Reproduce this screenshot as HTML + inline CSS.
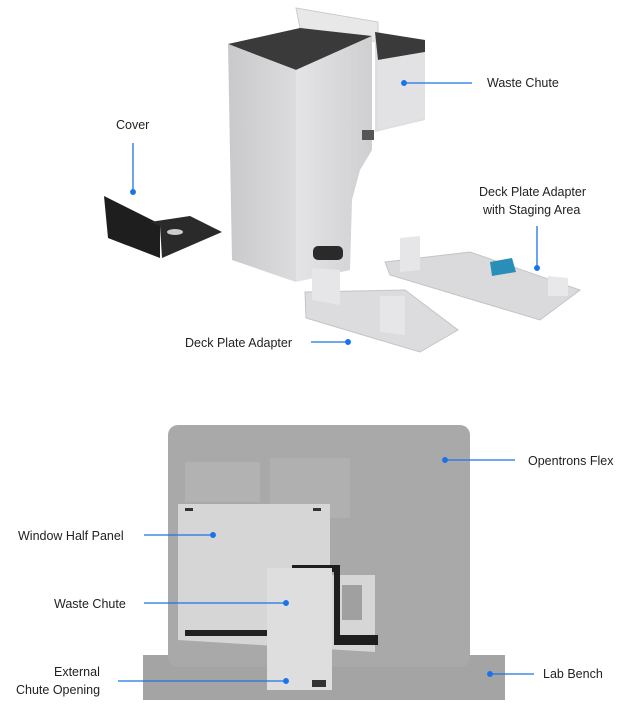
<!DOCTYPE html>
<html><head><style>
body{margin:0;background:#fff;}
svg{display:block;font-family:"Liberation Sans",sans-serif;}
text{font-size:12.5px;fill:#222;}
</style></head><body>
<svg width="625" height="719" viewBox="0 0 625 719">
<defs>
<linearGradient id="lf" x1="0" x2="1"><stop offset="0" stop-color="#c9c9cb"/><stop offset="1" stop-color="#dcdcde"/></linearGradient>
<linearGradient id="rf" x1="0" x2="1"><stop offset="0" stop-color="#e4e4e6"/><stop offset="1" stop-color="#cfcfd1"/></linearGradient>
</defs>
<polygon points="296,8 378,22 378,42 300,28" fill="#e8e8e8" stroke="#ccc"/>
<polygon points="375,32 425,40 425,120 375,132" fill="#dedee0"/>
<polygon points="375,32 425,40 425,52 378,60" fill="#3a3a3a"/>
<polygon points="378,60 425,52 425,118 378,130" fill="#e2e2e4"/>
<polygon points="228,44 300,28 372,36 296,70" fill="#3a3a3a"/>
<polygon points="228,44 296,70 296,282 232,260" fill="url(#lf)"/>
<polygon points="296,70 372,36 372,150 360,170 352,200 350,270 296,282" fill="url(#rf)"/>
<rect x="362" y="130" width="12" height="10" fill="#555"/>
<rect x="313" y="246" width="30" height="14" rx="5" fill="#2a2a2a"/>
<polygon points="104,196 160,224 160,258 108,238" fill="#1e1e1e"/>
<polygon points="150,222 190,216 222,232 162,258 160,226" fill="#2a2a2a"/>
<ellipse cx="175" cy="232" rx="8" ry="3" fill="#ccc"/>
<polygon points="305,292 405,290 458,330 420,352 306,318" fill="#dcdcde" stroke="#c4c4c6"/>
<polygon points="312,268 340,270 340,305 312,300" fill="#e6e6e8"/>
<polygon points="380,296 405,296 405,335 380,332" fill="#e6e6e8"/>
<polygon points="385,262 470,252 580,290 540,320 390,275" fill="#dadadc" stroke="#c4c4c6"/>
<polygon points="400,238 420,236 420,270 400,272" fill="#e6e6e8"/>
<polygon points="490,262 512,258 516,272 492,276" fill="#2a8fb8"/>
<polygon points="548,276 568,278 568,296 548,296" fill="#e8e8ea"/>
<rect x="143" y="655" width="362" height="45" fill="#a4a4a4"/>
<rect x="168" y="425" width="302" height="242" rx="10" fill="#a9a9a9"/>
<rect x="185" y="462" width="75" height="40" fill="#b2b2b2"/>
<rect x="270" y="458" width="80" height="60" fill="#b0b0b0"/>
<polygon points="178,504 330,504 330,575 375,575 375,652 178,640" fill="#d6d6d6"/>
<rect x="185" y="630" width="85" height="6" fill="#222"/>
<rect x="185" y="508" width="8" height="3" fill="#333"/>
<rect x="313" y="508" width="8" height="3" fill="#333"/>
<polygon points="292,565 340,565 340,635 378,635 378,645 334,645 334,572 292,572" fill="#1e1e1e"/>
<rect x="342" y="585" width="20" height="35" fill="#a0a0a0"/>
<rect x="267" y="568" width="65" height="122" fill="#dedede"/>
<rect x="312" y="680" width="14" height="7" fill="#333"/>
<g stroke="#1a73e8" stroke-width="1.3" fill="#1a73e8">
<line x1="404" y1="83" x2="472" y2="83"/><circle cx="404" cy="83" r="2.3"/>
<line x1="133" y1="143" x2="133" y2="192"/><circle cx="133" cy="192" r="2.3"/>
<line x1="537" y1="226" x2="537" y2="268"/><circle cx="537" cy="268" r="2.3"/>
<line x1="311" y1="342" x2="348" y2="342"/><circle cx="348" cy="342" r="2.3"/>
<line x1="445" y1="460" x2="515" y2="460"/><circle cx="445" cy="460" r="2.3"/>
<line x1="144" y1="535" x2="213" y2="535"/><circle cx="213" cy="535" r="2.3"/>
<line x1="144" y1="603" x2="286" y2="603"/><circle cx="286" cy="603" r="2.3"/>
<line x1="118" y1="681" x2="286" y2="681"/><circle cx="286" cy="681" r="2.3"/>
<line x1="490" y1="674" x2="534" y2="674"/><circle cx="490" cy="674" r="2.3"/>
</g>
<text x="487" y="87">Waste Chute</text>
<text x="116" y="129">Cover</text>
<text x="479" y="196">Deck Plate Adapter</text>
<text x="483" y="214">with Staging Area</text>
<text x="185" y="347">Deck Plate Adapter</text>
<text x="528" y="465">Opentrons Flex</text>
<text x="18" y="540">Window Half Panel</text>
<text x="54" y="608">Waste Chute</text>
<text x="54" y="676">External</text>
<text x="16" y="694">Chute Opening</text>
<text x="543" y="678">Lab Bench</text>
</svg>
</body></html>
